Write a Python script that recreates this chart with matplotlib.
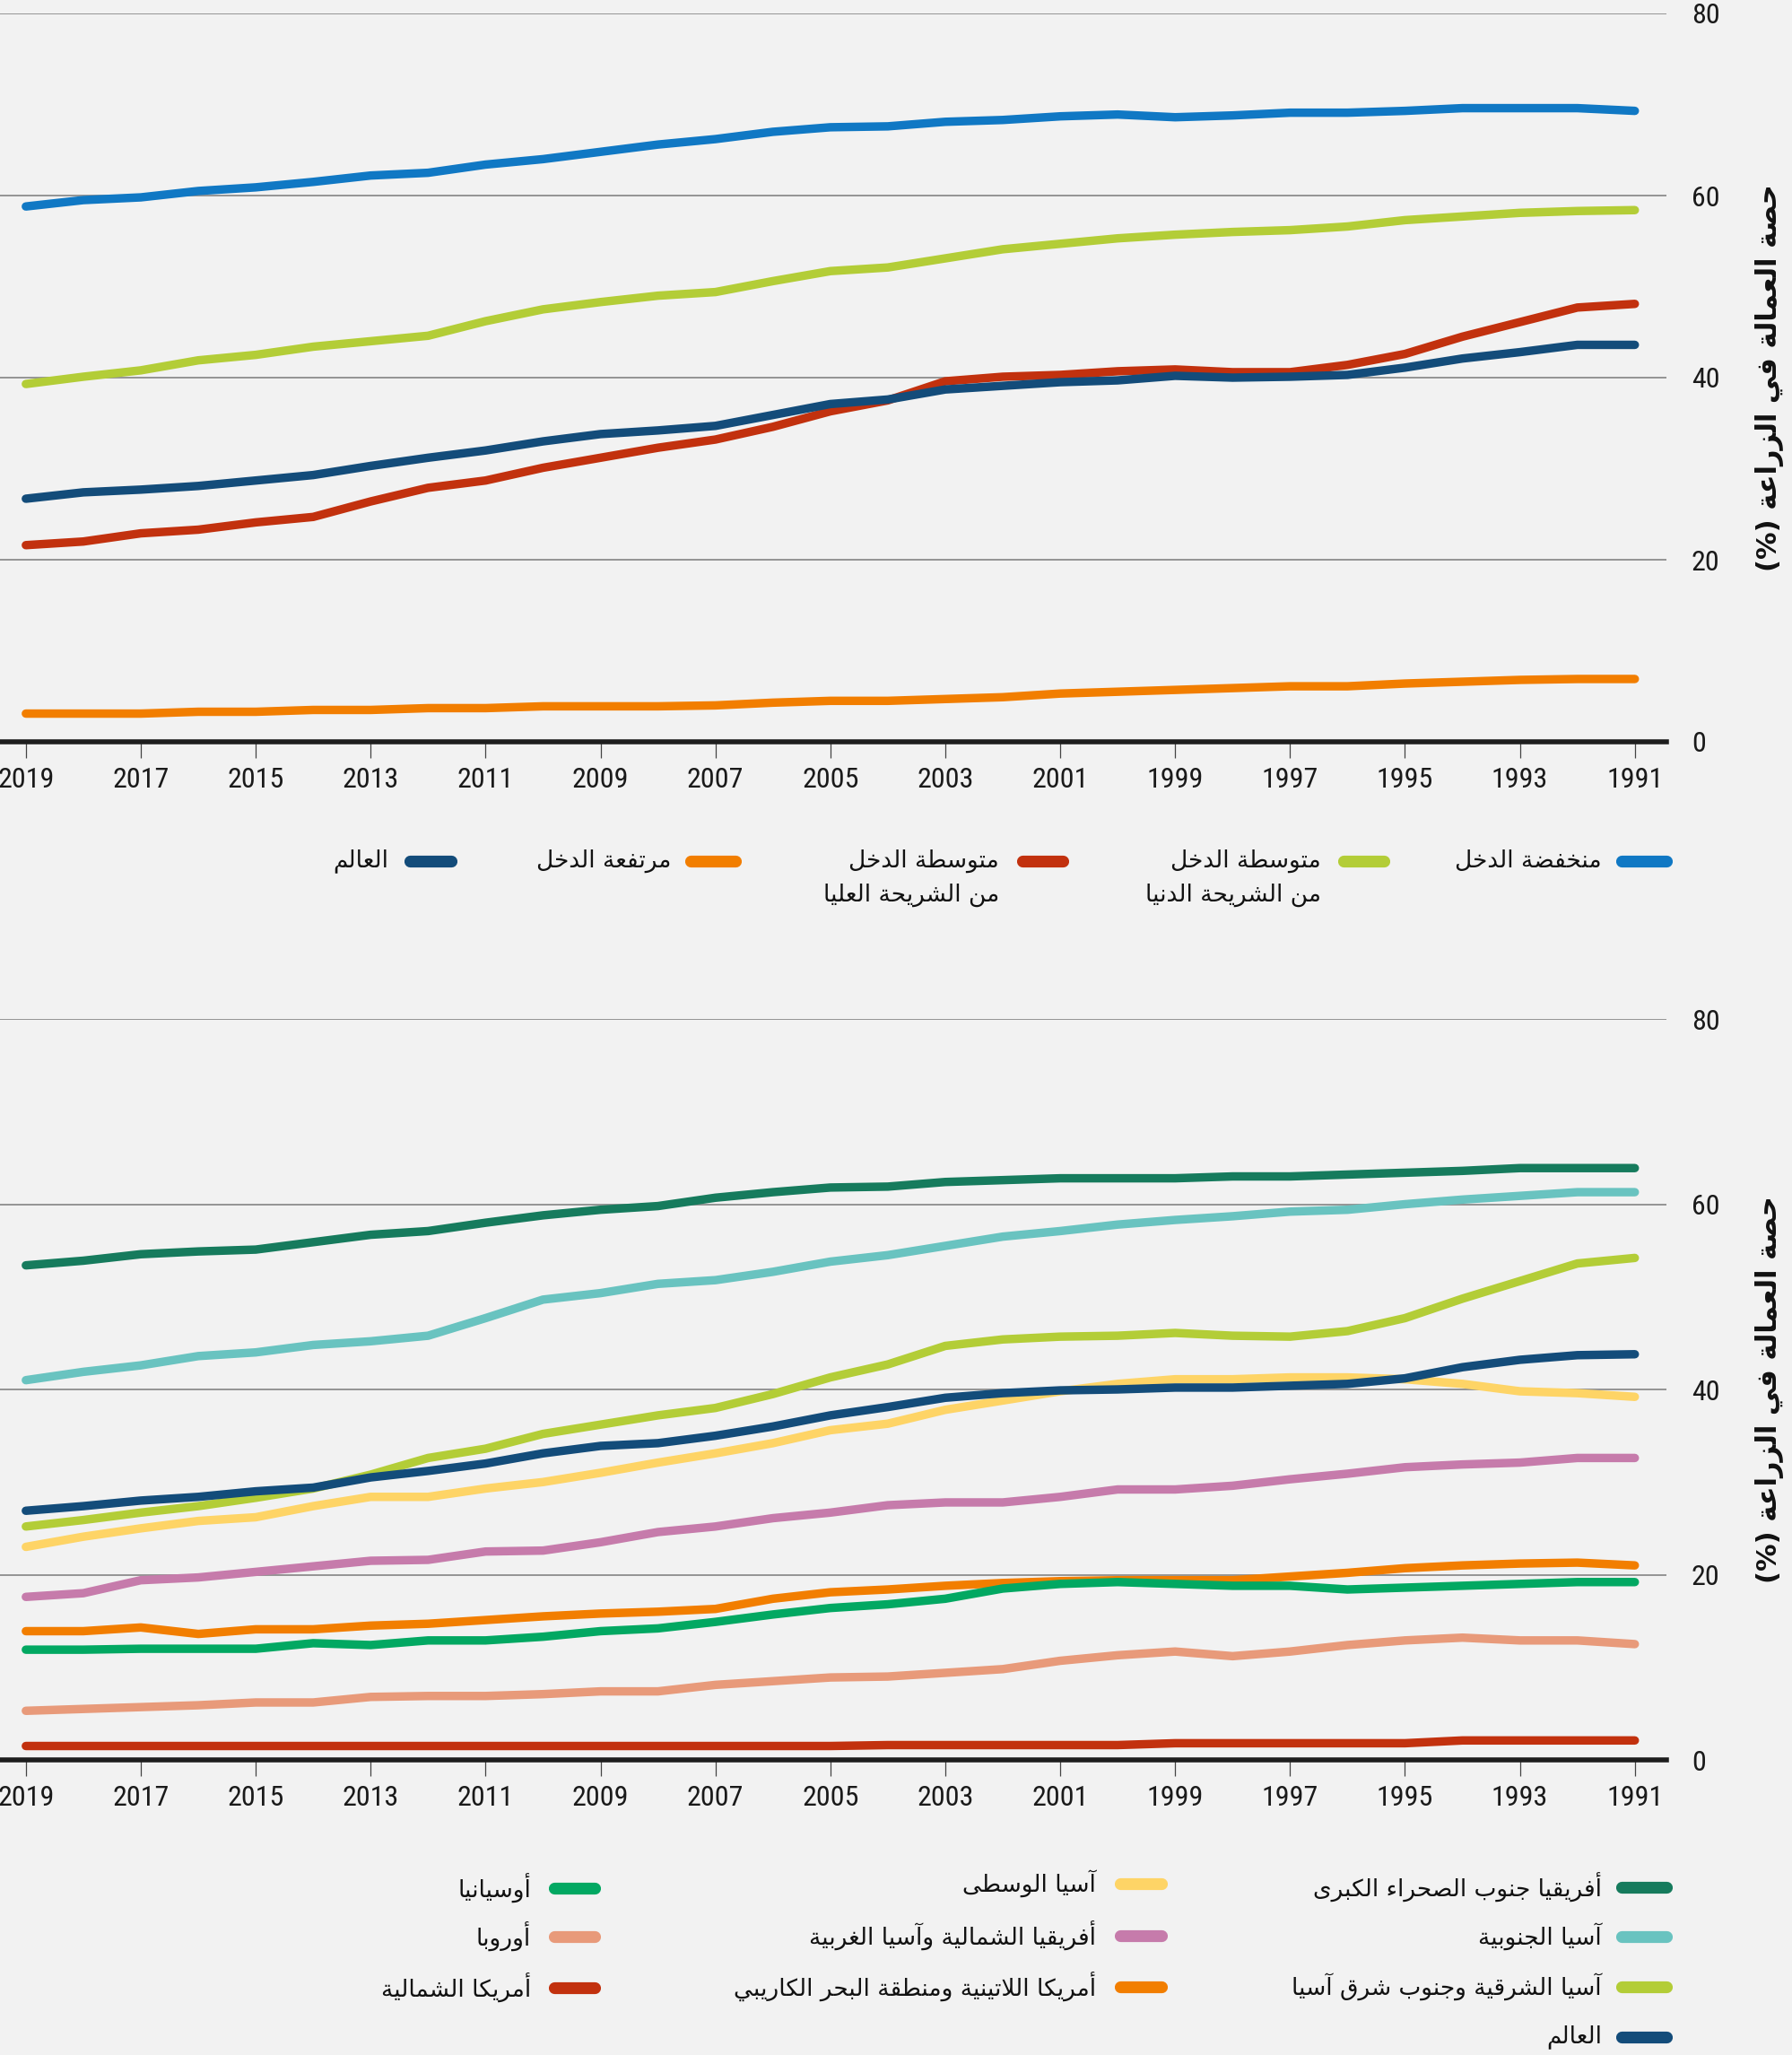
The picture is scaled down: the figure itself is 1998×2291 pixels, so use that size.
import matplotlib
matplotlib.use("Agg")
import matplotlib.pyplot as plt
from matplotlib.lines import Line2D
from matplotlib import font_manager as fm

# ---------------- data ----------------
years = list(range(2019, 1990, -1))
tick_years = list(range(2019, 1990, -2))
y_ticks = [0, 20, 40, 60, 80]

# top chart: income groups
low_income = [58.8, 59.5, 59.8, 60.5, 60.9, 61.5, 62.2, 62.5, 63.4, 64.0, 64.8, 65.6, 66.2, 67.0, 67.5,
              67.6, 68.1, 68.3, 68.7, 68.9, 68.6, 68.8, 69.1, 69.1, 69.3, 69.6, 69.6, 69.6, 69.3]
lower_middle = [39.3, 40.1, 40.8, 41.9, 42.5, 43.4, 44.0, 44.6, 46.2, 47.5, 48.3, 49.0, 49.4, 50.6, 51.7,
                52.1, 53.1, 54.1, 54.7, 55.3, 55.7, 56.0, 56.2, 56.6, 57.3, 57.7, 58.1, 58.3, 58.4]
upper_middle = [21.6, 22.0, 22.9, 23.3, 24.1, 24.7, 26.4, 27.9, 28.7, 30.1, 31.2, 32.3, 33.2, 34.6, 36.3,
                37.5, 39.6, 40.1, 40.3, 40.7, 40.9, 40.6, 40.6, 41.4, 42.6, 44.5, 46.1, 47.7, 48.1]
high_income = [3.1, 3.1, 3.1, 3.3, 3.3, 3.5, 3.5, 3.7, 3.7, 3.9, 3.9, 3.9, 4.0, 4.3, 4.5,
               4.5, 4.7, 4.9, 5.3, 5.5, 5.7, 5.9, 6.1, 6.1, 6.4, 6.6, 6.8, 6.9, 6.9]
world_top = [26.7, 27.4, 27.7, 28.1, 28.7, 29.3, 30.3, 31.2, 32.0, 33.0, 33.8, 34.2, 34.7, 35.9, 37.1,
             37.6, 38.7, 39.1, 39.5, 39.7, 40.2, 40.0, 40.1, 40.3, 41.1, 42.1, 42.8, 43.6, 43.6]

# bottom chart: regions
ssa = [53.4, 53.9, 54.6, 54.9, 55.1, 55.9, 56.7, 57.1, 58.0, 58.8, 59.4, 59.8, 60.7, 61.3, 61.8,
       61.9, 62.4, 62.6, 62.8, 62.8, 62.8, 63.0, 63.0, 63.2, 63.4, 63.6, 63.9, 63.9, 63.9]
south_asia = [41.0, 41.9, 42.6, 43.6, 44.0, 44.8, 45.2, 45.8, 47.7, 49.7, 50.4, 51.4, 51.8, 52.7, 53.8,
              54.5, 55.5, 56.5, 57.1, 57.8, 58.3, 58.7, 59.2, 59.4, 60.0, 60.5, 60.9, 61.3, 61.3]
east_asia = [25.2, 25.9, 26.7, 27.4, 28.3, 29.3, 30.8, 32.6, 33.6, 35.2, 36.2, 37.2, 38.0, 39.5, 41.3,
             42.7, 44.7, 45.4, 45.7, 45.8, 46.1, 45.8, 45.7, 46.3, 47.7, 49.8, 51.7, 53.6, 54.2]
world_bottom = [26.9, 27.4, 28.0, 28.4, 29.0, 29.4, 30.5, 31.2, 32.0, 33.1, 33.9, 34.2, 35.0, 36.0, 37.2,
                38.1, 39.1, 39.6, 39.9, 40.0, 40.2, 40.2, 40.4, 40.6, 41.2, 42.4, 43.2, 43.7, 43.8]
central_asia = [23.0, 24.1, 25.0, 25.8, 26.2, 27.4, 28.4, 28.4, 29.3, 30.0, 31.0, 32.1, 33.1, 34.2, 35.6,
                36.3, 37.8, 38.8, 39.8, 40.6, 41.1, 41.1, 41.3, 41.3, 41.1, 40.6, 39.8, 39.6, 39.2]
na_wa = [17.6, 18.0, 19.4, 19.7, 20.3, 20.9, 21.5, 21.6, 22.5, 22.6, 23.5, 24.6, 25.2, 26.1, 26.7,
         27.5, 27.8, 27.8, 28.4, 29.2, 29.2, 29.6, 30.3, 30.9, 31.6, 31.9, 32.1, 32.6, 32.6]
latam = [13.9, 13.9, 14.3, 13.6, 14.1, 14.1, 14.5, 14.7, 15.1, 15.5, 15.8, 16.0, 16.3, 17.4, 18.1,
         18.4, 18.8, 19.1, 19.3, 19.4, 19.4, 19.4, 19.8, 20.2, 20.7, 21.0, 21.2, 21.3, 21.0]
oceania = [11.9, 11.9, 12.0, 12.0, 12.0, 12.6, 12.4, 12.9, 12.9, 13.3, 13.9, 14.2, 14.9, 15.7, 16.4,
           16.8, 17.4, 18.5, 19.0, 19.2, 19.0, 18.8, 18.8, 18.4, 18.6, 18.8, 19.0, 19.2, 19.2]
europe = [5.3, 5.5, 5.7, 5.9, 6.2, 6.2, 6.8, 6.9, 6.9, 7.1, 7.4, 7.4, 8.1, 8.5, 8.9,
          9.0, 9.4, 9.8, 10.7, 11.3, 11.7, 11.2, 11.7, 12.4, 12.9, 13.2, 12.9, 12.9, 12.5]
north_america = [1.5, 1.5, 1.5, 1.5, 1.5, 1.5, 1.5, 1.5, 1.5, 1.5, 1.5, 1.5, 1.5, 1.5, 1.5,
                 1.6, 1.6, 1.6, 1.6, 1.6, 1.8, 1.8, 1.8, 1.8, 1.8, 2.1, 2.1, 2.1, 2.1]

y_label = "حصة العمالة في الزراعة (%)"

top_series = [
    (["منخفضة الدخل"], low_income, "#1078c4"),
    (["متوسطة الدخل", "من الشريحة الدنيا"], lower_middle, "#b3cd37"),
    (["متوسطة الدخل", "من الشريحة العليا"], upper_middle, "#c2310e"),
    (["مرتفعة الدخل"], high_income, "#f27e00"),
    (["العالم"], world_top, "#134c7a"),
]
bottom_series = [
    (["أفريقيا جنوب الصحراء الكبرى"], ssa, "#167b5d"),
    (["آسيا الجنوبية"], south_asia, "#69c3c0"),
    (["آسيا الشرقية وجنوب شرق آسيا"], east_asia, "#b3cd37"),
    (["آسيا الوسطى"], central_asia, "#fed466"),
    (["أفريقيا الشمالية وآسيا الغربية"], na_wa, "#c67bab"),
    (["أمريكا اللاتينية ومنطقة البحر الكاريبي"], latam, "#f27e00"),
    (["أوسيانيا"], oceania, "#02a862"),
    (["أوروبا"], europe, "#e89a7a"),
    (["أمريكا الشمالية"], north_america, "#c2310e"),
    (["العالم"], world_bottom, "#134c7a"),
]

# ---------------- Arabic shaping (presentation forms + RTL order) ----------------
_dual = {'ئ': 0xFE89, 'ب': 0xFE8F, 'ت': 0xFE95, 'ث': 0xFE99, 'ج': 0xFE9D, 'ح': 0xFEA1, 'خ': 0xFEA5,
         'س': 0xFEB1, 'ش': 0xFEB5, 'ص': 0xFEB9, 'ض': 0xFEBD, 'ط': 0xFEC1, 'ظ': 0xFEC5, 'ع': 0xFEC9,
         'غ': 0xFECD, 'ف': 0xFED1, 'ق': 0xFED5, 'ك': 0xFED9, 'ل': 0xFEDD, 'م': 0xFEE1, 'ن': 0xFEE5,
         'ه': 0xFEE9, 'ي': 0xFEF1}
_right = {'آ': 0xFE81, 'أ': 0xFE83, 'ؤ': 0xFE85, 'إ': 0xFE87, 'ا': 0xFE8D, 'ة': 0xFE93, 'د': 0xFEA9,
          'ذ': 0xFEAB, 'ر': 0xFEAD, 'ز': 0xFEAF, 'و': 0xFEED, 'ى': 0xFEEF}
_none = {'ء': 0xFE80}
_lamalef = {'آ': 0xFEF5, 'أ': 0xFEF7, 'إ': 0xFEF9, 'ا': 0xFEFB}
_mirror = {'(': ')', ')': '(', '[': ']', ']': '['}


def ar(s):
    toks = []
    i = 0
    while i < len(s):
        c = s[i]
        if c == 'ل' and i + 1 < len(s) and s[i + 1] in _lamalef:
            toks.append(('LA', s[i + 1]))
            i += 2
        else:
            toks.append(('C', c))
            i += 1

    def jt(t):
        if t is None:
            return None
        if t[0] == 'LA':
            return 'R'
        c = t[1]
        if c in _dual:
            return 'D'
        if c in _right:
            return 'R'
        if c in _none:
            return 'U'
        return None

    out = []
    for k, t in enumerate(toks):
        j = jt(t)
        prev = toks[k - 1] if k > 0 else None
        nxt = toks[k + 1] if k + 1 < len(toks) else None
        jp = jt(prev) == 'D' and j in ('D', 'R')
        jn = j == 'D' and jt(nxt) in ('D', 'R')
        if t[0] == 'LA':
            b = _lamalef[t[1]]
            out.append(chr(b + 1 if jp else b))
        elif j == 'D':
            b = _dual[t[1]]
            out.append(chr(b + 3 if (jp and jn) else b + 1 if jp else b + 2 if jn else b))
        elif j == 'R':
            b = _right[t[1]]
            out.append(chr(b + 1 if jp else b))
        elif j == 'U':
            out.append(chr(_none[t[1]]))
        else:
            out.append(_mirror.get(t[1], t[1]))
    return ''.join(reversed(out))


# ---------------- fonts ----------------
names = {f.name for f in fm.fontManager.ttflist}
num_font = next((n for n in ['Liberation Sans Narrow', 'Roboto Condensed', 'Liberation Sans'] if n in names),
                'DejaVu Sans')
AR_FONT = ['DejaVu Sans']

# ---------------- figure ----------------
W, H = 1998, 2291
BG = '#f2f2f2'
fig = plt.figure(figsize=(W / 100, H / 100), dpi=100, facecolor=BG)


def fx(x):
    return x / W


def fy(y):
    return 1 - y / H


def make_axes(top_px, bottom_px):
    ax = fig.add_axes([0, fy(bottom_px), fx(1858), (bottom_px - top_px) / H])
    ax.set_facecolor(BG)
    ax.set_xlim(2019.45, 1990.45)
    ax.set_ylim(0, 80)
    for s in ['top', 'left', 'right']:
        ax.spines[s].set_visible(False)
    ax.spines['bottom'].set_linewidth(4.0)
    ax.spines['bottom'].set_color('#1e1e1e')
    ax.spines['bottom'].set_zorder(5)
    ax.set_xticks(tick_years)
    ax.set_xticklabels([str(y) for y in tick_years], fontfamily=num_font, fontsize=23, color='#1a1a1a')
    ax.tick_params(axis='x', direction='out', length=13, width=0.9, color='#444444', pad=7)
    ax.yaxis.tick_right()
    ax.set_yticks(y_ticks)
    ax.set_yticklabels([str(v) for v in y_ticks], fontfamily=num_font, fontsize=23, color='#1a1a1a')
    ax.tick_params(axis='y', length=0, pad=20)
    for lab in ax.get_yticklabels():
        lab.set_horizontalalignment('left')
    ax.grid(axis='y', color='#7a7a7a', linewidth=1.1)
    ax.grid(axis='x', visible=False)
    ax.set_axisbelow(True)
    return ax


def draw(ax, series):
    for labels, vals, col in series:
        ax.plot(years, vals, color=col, lw=6.8, solid_capstyle='round', solid_joinstyle='round',
                zorder=3, clip_on=False)


def swatch(x1, x2, y, col):
    r = 6.5
    fig.add_artist(Line2D([fx(x1 + r), fx(x2 - r)], [fy(y), fy(y)], transform=fig.transFigure,
                          color=col, lw=9.5, solid_capstyle='round'))


def legend_item(labels, col, sx1, sx2, tx, y):
    swatch(sx1, sx2, y, col)
    for i, line in enumerate(labels):
        fig.text(fx(tx), fy(y + i * 38), ar(line), ha='right', va='center', fontsize=19,
                 family=AR_FONT, color='#111111')


# top chart
ax1 = make_axes(15, 827)
draw(ax1, top_series)
fig.text(fx(1973), fy(421), ar(y_label), rotation=90, ha='center', va='center', fontsize=22,
         fontweight='bold', family=AR_FONT, color='#111111')

top_pos = [(1801, 1864, 1786), (1491, 1549, 1473), (1133, 1191, 1114), (763, 826, 748), (450, 509, 433)]
for (labels, vals, col), (s1, s2, tx) in zip(top_series, top_pos):
    legend_item(labels, col, s1, s2, tx, 960)

# bottom chart
ax2 = make_axes(1136, 1962)
draw(ax2, bottom_series)
fig.text(fx(1973), fy(1549), ar(y_label), rotation=90, ha='center', va='center', fontsize=22,
         fontweight='bold', family=AR_FONT, color='#111111')

colA = (1801, 1864, 1786)
colB = (1242, 1301, 1222)
colC = (611, 669, 592)
bottom_pos = {
    0: (colA, 2104), 1: (colA, 2159), 2: (colA, 2215), 9: (colA, 2271),
    3: (colB, 2100), 4: (colB, 2158), 5: (colB, 2215),
    6: (colC, 2105), 7: (colC, 2159), 8: (colC, 2216),
}
for idx, (labels, vals, col) in enumerate(bottom_series):
    (s1, s2, tx), yy = bottom_pos[idx]
    legend_item(labels, col, s1, s2, tx, yy)

fig.savefig('out.png', dpi=100, facecolor=BG)
